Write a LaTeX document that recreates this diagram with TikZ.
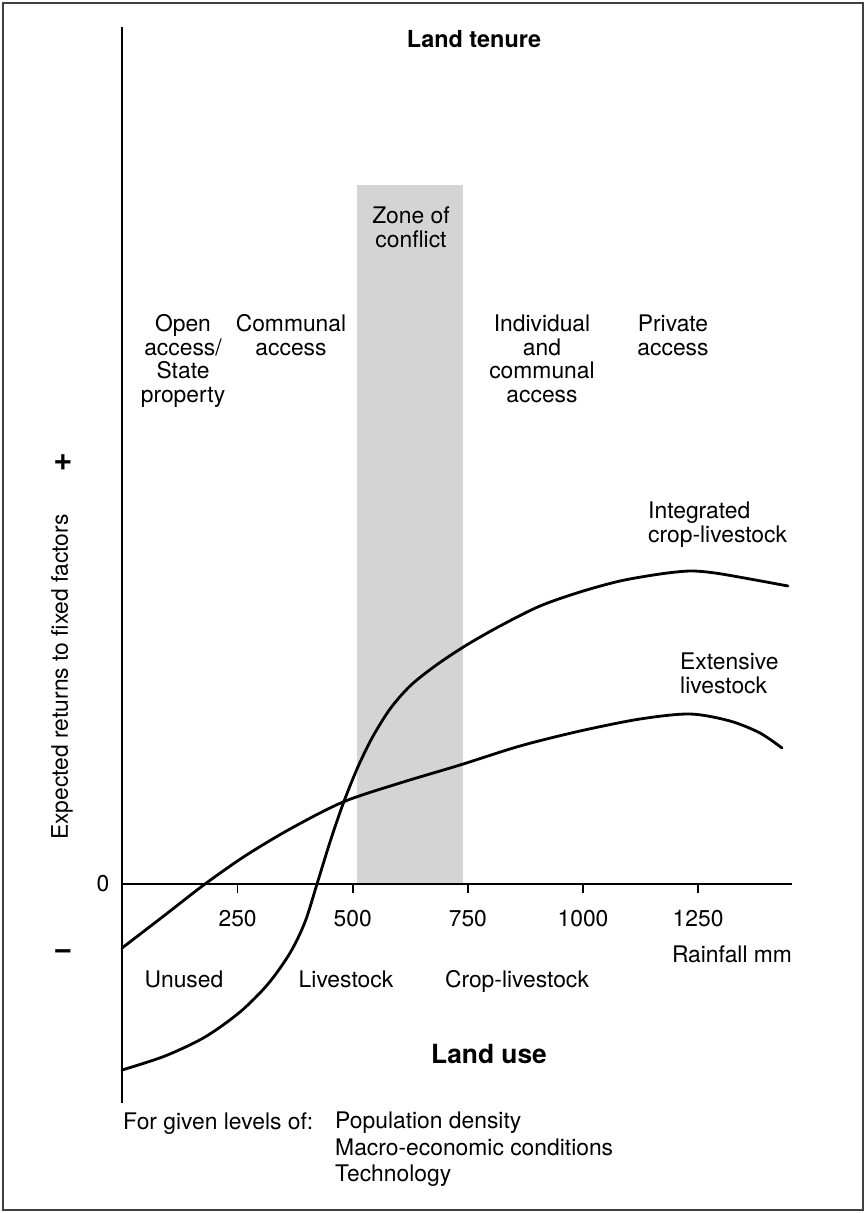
\documentclass[tikz,border=0pt]{standalone}
\usepackage{fontspec}
\setmainfont{TeX Gyre Heros}
\usetikzlibrary{positioning}

\begin{document}
\begin{tikzpicture}[
    x=0.3mm, y=-0.3mm,
    every node/.style={font=\fontsize{19.5}{20}\selectfont, inner sep=0pt},
    tenure label/.style={align=center, anchor=base},
    use label/.style={anchor=base},
    curve label/.style={align=left, anchor=base west},
    tick label/.style={anchor=base},
    title label/.style={font=\fontsize{20}{22}\selectfont\bfseries, anchor=base},
    sign label/.style={font=\fontsize{28}{28}\selectfont\bfseries},
    axis line/.style={line width=1.3pt},
    return curve/.style={line width=2.4pt, line join=round, line cap=round},
    conflict zone/.style={fill=black!17, draw=none}
]
\useasboundingbox (0,0) rectangle (866,1213);
% Outer frame
\draw[line width=1.6pt, black!75] (3,3) rectangle (863,1210);

% Zone of conflict (shaded band)
\fill[conflict zone] (357,185) rectangle (463,884);
\node[tenure label] (zone) at (411,247) {Zone of\\conflict};

% Axes
\coordinate (yTop) at (122,27);
\coordinate (yBot) at (122,1103);
\coordinate (O) at (122,884);
\coordinate (xEnd) at (792,884);
\draw[axis line] (yTop) -- (yBot);
\draw[axis line] (O) -- (xEnd);
\foreach \r in {250,500,...,1250}{
    \coordinate (tick\r) at ({122.5+0.4605*\r},884);
    \draw[axis line] (tick\r) -- ++(0,9);
    \node[tick label] (lab\r) at ({122.5+0.4605*\r},926) {\r};
}
\node (zero) at (103,884) {0};
\node[sign label] (plus) at (63,463) {+};
\node[sign label] (minus) at (63,955) {−};
\node[rotate=90] (ylab) at (62,677) {Expected returns to fixed factors};
\node[use label] (rain) at (732,962) {Rainfall mm};

% Land tenure
\node[title label] (tenure) at (474,47) {Land tenure};
\node[tenure label] (open) at (183,402) {Open\\access/\\State\\property};
\node[tenure label] (communal) at (291,355) {Communal\\access};
\node[tenure label] (indiv) at (542,402) {Individual\\and\\communal\\access};
\node[tenure label] (private) at (673,355) {Private\\access};

% Return curves
\draw[return curve] plot[smooth, tension=0.5] coordinates {
    (122,1070) (165,1056) (205,1037) (240,1012) (268,984) (290,953)
    (305,922) (317,884) (330,842) (343,804) (357,769) (372,738)
    (390,709) (410,686) (435,666) (465,646) (500,626) (540,606)
    (580,592) (620,581) (660,574) (690,571) (715,573) (750,579)
    (788,586)};
\draw[return curve] plot[smooth, tension=0.5] coordinates {
    (122,948) (165,915) (205,884) (245,856) (290,829) (343,802)
    (400,783) (460,765) (520,746) (580,731) (640,719) (690,714)
    (730,721) (760,733) (782,748)};
\node[curve label] (integ) at (648,542) {Integrated\\crop-livestock};
\node[curve label] (extens) at (680,693) {Extensive\\livestock};

% Land use
\node[use label] (unused) at (184,987) {Unused};
\node[use label] (livest) at (346,987) {Livestock};
\node[use label] (croplive) at (517,987) {Crop-livestock};
\node[title label, font=\fontsize{22.5}{24}\selectfont\bfseries] (landuse) at (489,1063) {Land use};

% Conditions
\node[anchor=base west] (given) at (123,1129) {For given levels of:};
\node[anchor=base west, align=left, font=\fontsize{19.5}{22.2}\selectfont] (levels) at (335,1181)
    {Population density\\Macro-economic conditions\\Technology};
\end{tikzpicture}
\end{document}
